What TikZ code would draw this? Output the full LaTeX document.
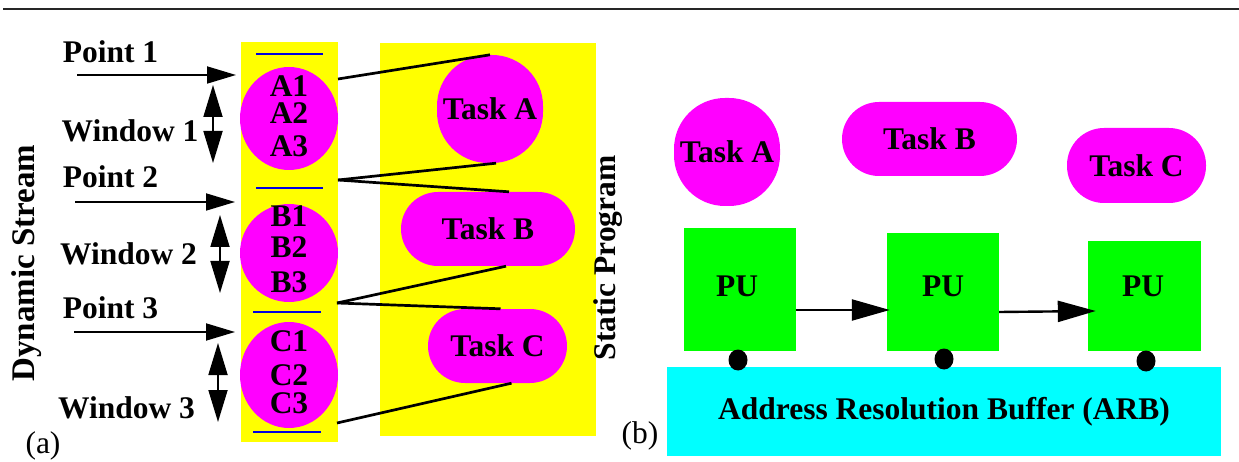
\documentclass[tikz,border=0pt]{standalone}
\usepackage{fontspec}
\setmainfont{Liberation Serif}
\definecolor{dsyellow}{HTML}{FFFF00}
\definecolor{dsmagenta}{HTML}{FF00FF}
\definecolor{dsgreen}{HTML}{00FF00}
\definecolor{dscyan}{HTML}{00FFFF}
\definecolor{dsblue}{HTML}{0000E0}
\usepackage{tikz}
\usetikzlibrary{arrows.meta, positioning, shapes.geometric, calc}

\tikzset{
  lbl/.style={font=\fontsize{31.5}{34}\selectfont\bfseries, inner sep=0pt},
  tag/.style={font=\fontsize{31.5}{34}\selectfont, inner sep=0pt},
  instr/.style={ellipse, fill=dsmagenta, minimum width=98pt, inner sep=0pt},
  slot/.style={lbl, anchor=base, text height=21pt, text depth=0pt},
  taskbox/.style={lbl, fill=dsmagenta, rounded corners=37pt, minimum height=74pt},
  pubox/.style={fill=dsgreen, inner sep=0pt},
  busdot/.style={ellipse, fill=black, minimum width=19pt, minimum height=21pt, inner sep=0pt},
  ptarrow/.style={-{Triangle[length=29pt,width=17pt]}, line width=1.8pt},
  winarrow/.style={{Triangle[length=32pt,width=19pt]}-{Triangle[length=32pt,width=19pt]}, line width=1.8pt},
  puarrow/.style={-{Triangle[length=38pt,width=21pt]}, line width=2.4pt},
  tie/.style={line width=2.7pt},
  sep/.style={draw=dsblue, line width=2.5pt},
}

\begin{document}
\begin{tikzpicture}[x=1pt, y=-1pt]
        \useasboundingbox (0,0) rectangle (1239,462);
        % Top rule
        \draw[line width=2pt, black!85] (3,9) -- (1239,9);
        % (a) Dynamic stream column (dsyellow)
        \fill[dsyellow] (241,42) rectangle (338,442);
        \draw[sep] (256,54) -- (323,54);
        \draw[sep] (256,188) -- (323,188);
        \draw[sep] (253,312) -- (321,312);
        \draw[sep] (253,432) -- (321,432);
        \node[instr, minimum height=103pt] (winA) at (289,118.5) {};
        \node[instr, minimum height=98pt]  (winB) at (289,253) {};
        \node[instr, minimum height=106pt] (winC) at (289,375) {};
        \foreach \txt/\yy in {A1/97, A2/124, A3/157, B1/227, B2/258,
                              B3/293, C1/351, C2/385, C3/413}
          \node[slot] (ins\txt) at (289,\yy) {\txt};
        % Points and windows
        \node[lbl, anchor=base] (point1) at (110.5,63) {Point 1};
        \node[lbl, anchor=base] (point2) at (110.5,188) {Point 2};
        \node[lbl, anchor=base] (point3) at (110.5,318) {Point 3};
        \node[lbl, anchor=base] (window1) at (130,142) {Window 1};
        \node[lbl, anchor=base] (window2) at (128.5,265) {Window 2};
        \node[lbl, anchor=base] (window3) at (126.5,418) {Window 3};
        \coordinate (p1a) at (77,75);  \coordinate (p1b) at (236,75);
        \coordinate (p2a) at (75,202); \coordinate (p2b) at (235,202);
        \coordinate (p3a) at (74,332); \coordinate (p3b) at (235,332);
        \draw[ptarrow] (p1a) -- (p1b);
        \draw[ptarrow] (p2a) -- (p2b);
        \draw[ptarrow] (p3a) -- (p3b);
        \coordinate (w1a) at (213,85);  \coordinate (w1b) at (213,163);
        \coordinate (w2a) at (220,215); \coordinate (w2b) at (220,293);
        \coordinate (w3a) at (218,343); \coordinate (w3b) at (218,422);
        \draw[winarrow] (w1a) -- (w1b);
        \draw[winarrow] (w2a) -- (w2b);
        \draw[winarrow] (w3a) -- (w3b);
        \node[lbl, rotate=90, font=\fontsize{33}{36}\selectfont\bfseries]
          (dynstream) at (26.5,263) {Dynamic Stream};
        \node[tag, anchor=base] (taga) at (43,453) {(a)};
        % Static program column (dsyellow)
        \fill[dsyellow] (380,43) rectangle (596,436);
        \node[taskbox, minimum width=106pt, minimum height=108pt,
              rounded corners=51pt] (taskA) at (490,109) {Task A};
        \node[taskbox, minimum width=174pt] (taskB) at (488,229) {Task B};
        \node[taskbox, minimum width=139pt] (taskC) at (497.5,346) {Task C};
        \node[lbl, rotate=90] (static) at (608,258) {Static Program};
        % Stream to program ties
        \coordinate (ta) at (338,79);
        \coordinate (tb) at (338,180);
        \coordinate (tc) at (337,303);
        \coordinate (td) at (337,423);
        \draw[tie] (ta) -- (taskA.north);
        \draw[tie] (tb) -- ([xshift=6pt]taskA.south);
        \draw[tie] (tb) -- ([xshift=21pt]taskB.north);
        \draw[tie] (tc) -- ([xshift=18pt]taskB.south);
        \draw[tie] (tc) -- ([xshift=3pt]taskC.north);
        \draw[tie] (td) -- ([xshift=14pt]taskC.south);
        % (b) Tasks on processing units
        \node[taskbox, minimum width=106pt, minimum height=108pt,
              rounded corners=51pt] (runA) at (727,152) {Task A};
        \node[taskbox, minimum width=175pt] (runB) at (929.5,139) {Task B};
        \node[taskbox, minimum width=139pt, minimum height=75pt]
          (runC) at (1136.5,165.5) {Task C};
        \node[pubox, minimum width=112pt, minimum height=123pt] (pu1) at (740,289.5) {};
        \node[pubox, minimum width=112pt, minimum height=118pt] (pu2) at (943,292) {};
        \node[pubox, minimum width=113pt, minimum height=110pt] (pu3) at (1144.5,296) {};
        \node[lbl, anchor=base] (pu1lbl) at (737,297) {PU};
        \node[lbl, anchor=base] (pu2lbl) at (943,297) {PU};
        \node[lbl, anchor=base] (pu3lbl) at (1143,297) {PU};
        \draw[puarrow] (pu1.east |- 0,310) -- ([xshift=3pt]pu2.west |- 0,310);
        \draw[puarrow] (pu2.east |- 0,312) -- ([xshift=8pt]pu3.west |- 0,311);
        % Address resolution buffer (dscyan)
        \node[lbl, fill=dscyan, minimum width=554pt, minimum height=89pt]
          (arb) at (944,411.5) {Address Resolution Buffer (ARB)};
        \node[busdot] (dot1) at (738,360) {};
        \node[busdot] (dot2) at (944,359) {};
        \node[busdot] (dot3) at (1146,361) {};
        \node[tag, anchor=base] (tagb) at (640,443) {(b)};
      \end{tikzpicture}
\end{document}
